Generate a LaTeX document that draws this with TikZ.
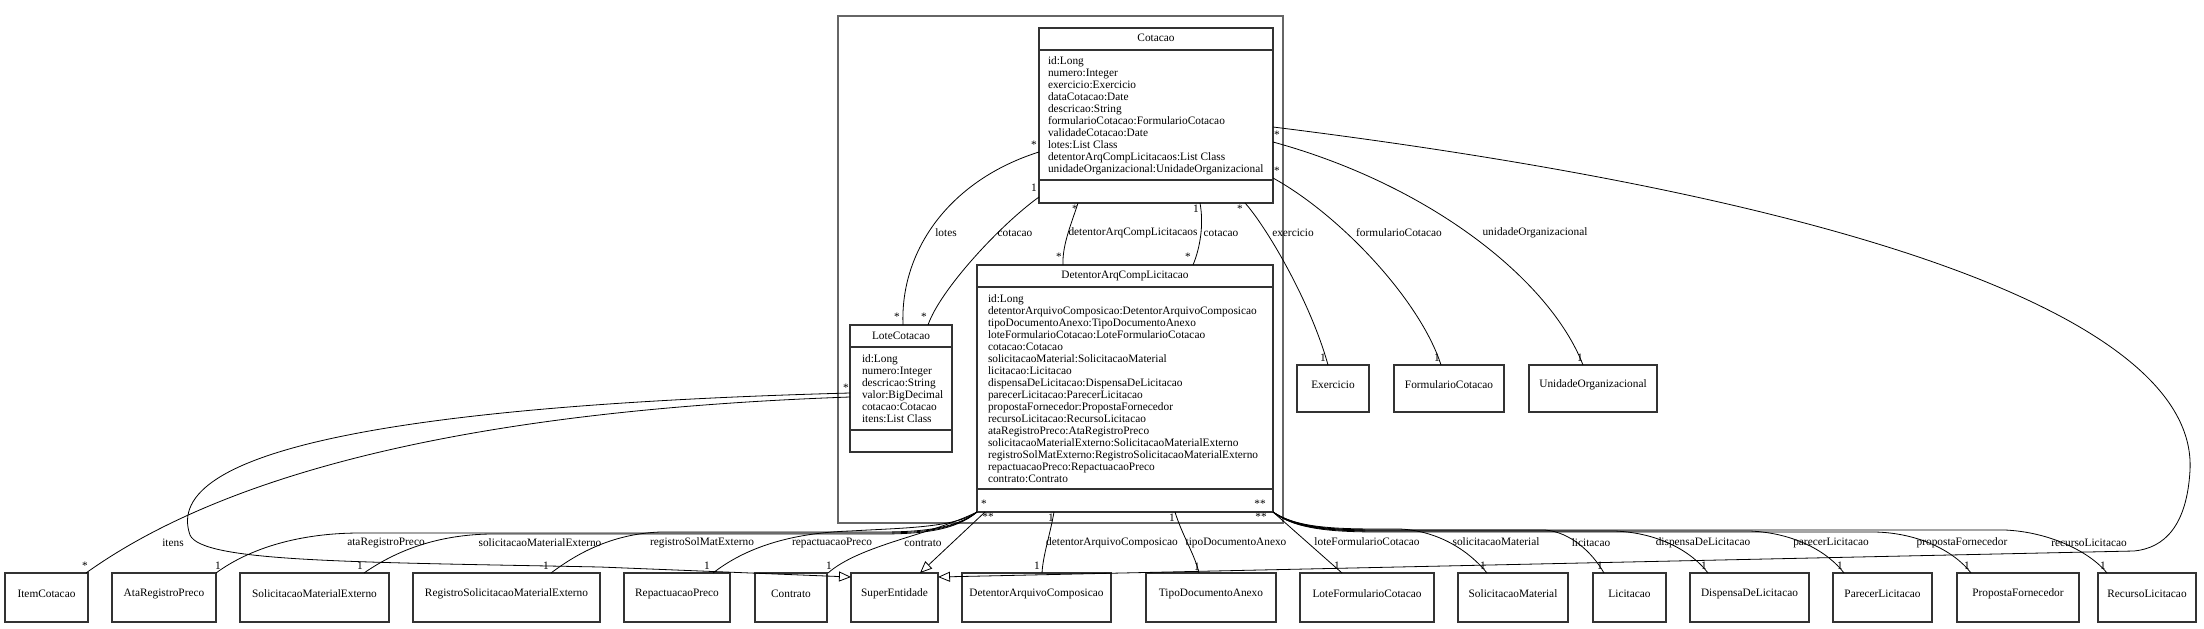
\documentclass[tikz,border=0pt]{standalone}
\usepackage{fontspec}
\setmainfont{Liberation Serif}
\usetikzlibrary{arrows.meta,fit}
\begin{document}
\begin{tikzpicture}[x=0.75pt,y=-0.75pt,
  every node/.style={font=\fontsize{8.5}{9}\selectfont, inner sep=0pt, outer sep=0pt},
  cls/.style={draw=black!80, fill=white, line width=0.9pt, inner sep=0pt},
  pkg/.style={draw=black!60, line width=1.1pt, inner sep=0pt},
  sepline/.style={draw=black!80, line width=0.9pt},
  attr/.style={anchor=north west, align=left},
  assoc/.style={draw=black, line width=0.6pt},
  gen/.style={draw=black, line width=0.6pt, -{Triangle[open,length=9pt,width=7.5pt]}},
]
\fill[white] (0,0) rectangle (2204,628);
\useasboundingbox (0,0) rectangle (2204,628);

% package
\node[pkg, fit={(838,16)(1283,523)}] (pkg) {};

% main classes
\node[cls, fit={(1039,28)(1273,203)}] (cot) {};
\node (cotT) at (1156,38) {Cotacao};
\draw[sepline] (cot.west |- 0,50) -- (cot.east |- 0,50);
\draw[sepline] (cot.west |- 0,180) -- (cot.east |- 0,180);
\node[attr] (cotA) at (1048,57) {id:Long\\numero:Integer\\exercicio:Exercicio\\dataCotacao:Date\\descricao:String\\formularioCotacao:FormularioCotacao\\validadeCotacao:Date\\lotes:List Class\\detentorArqCompLicitacaos:List Class\\unidadeOrganizacional:UnidadeOrganizacional};

\node[cls, fit={(977,265)(1273,512)}] (det) {};
\node (detT) at (1125,276) {DetentorArqCompLicitacao};
\draw[sepline] (det.west |- 0,287) -- (det.east |- 0,287);
\draw[sepline] (det.west |- 0,489) -- (det.east |- 0,489);
\node[attr] (detA) at (988,294.5) {id:Long\\detentorArquivoComposicao:DetentorArquivoComposicao\\tipoDocumentoAnexo:TipoDocumentoAnexo\\loteFormularioCotacao:LoteFormularioCotacao\\cotacao:Cotacao\\solicitacaoMaterial:SolicitacaoMaterial\\licitacao:Licitacao\\dispensaDeLicitacao:DispensaDeLicitacao\\parecerLicitacao:ParecerLicitacao\\propostaFornecedor:PropostaFornecedor\\recursoLicitacao:RecursoLicitacao\\ataRegistroPreco:AtaRegistroPreco\\solicitacaoMaterialExterno:SolicitacaoMaterialExterno\\registroSolMatExterno:RegistroSolicitacaoMaterialExterno\\repactuacaoPreco:RepactuacaoPreco\\contrato:Contrato};

\node[cls, fit={(850,325)(952,452)}] (lote) {};
\node (loteT) at (901,336) {LoteCotacao};
\draw[sepline] (lote.west |- 0,347) -- (lote.east |- 0,347);
\draw[sepline] (lote.west |- 0,430) -- (lote.east |- 0,430);
\node[attr] (loteA) at (862,354.5) {id:Long\\numero:Integer\\descricao:String\\valor:BigDecimal\\cotacao:Cotacao\\itens:List Class};

% right classes
\node[cls, fit={(1297,365)(1369,412)}] (ex) {Exercicio};
\node[cls, fit={(1394,365)(1504,412)}] (fc) {FormularioCotacao};
\node[cls, fit={(1529,365)(1657,412)}] (uo) {UnidadeOrganizacional};

% bottom classes
\node[cls, fit={(5,573)(88,622)}] (it) {ItemCotacao};
\node[cls, fit={(112,573)(216,622)}] (ata) {AtaRegistroPreco};
\node[cls, fit={(240,573)(389,622)}] (sme) {SolicitacaoMaterialExterno};
\node[cls, fit={(413,573)(600,622)}] (rsme) {RegistroSolicitacaoMaterialExterno};
\node[cls, fit={(624,573)(730,622)}] (rep) {RepactuacaoPreco};
\node[cls, fit={(755,573)(827,622)}] (con) {Contrato};
\node[cls, fit={(851,573)(938,622)}] (se) {SuperEntidade};
\node[cls, fit={(962,573)(1111,622)}] (dac) {DetentorArquivoComposicao};
\node[cls, fit={(1146,573)(1276,622)}] (tda) {TipoDocumentoAnexo};
\node[cls, fit={(1300,573)(1434,622)}] (lfc) {LoteFormularioCotacao};
\node[cls, fit={(1458,573)(1568,622)}] (sm) {SolicitacaoMaterial};
\node[cls, fit={(1593,573)(1666,622)}] (lic) {Licitacao};
\node[cls, fit={(1690,573)(1809,622)}] (ddl) {DispensaDeLicitacao};
\node[cls, fit={(1833,573)(1932,622)}] (pl) {ParecerLicitacao};
\node[cls, fit={(1957,573)(2079,622)}] (pf) {PropostaFornecedor};
\node[cls, fit={(2098,573)(2196,622)}] (rl) {RecursoLicitacao};

% ---- Cotacao associations
\draw[assoc] (cot.west |- 0,152) .. controls (950,180) and (900,250) .. (903,0 |- lote.north);
\node (l1) at (946,233) {lotes};
\node (m1a) at (1034,145) {*};
\node (m1b) at (897,317) {*};

\draw[assoc] (cot.west |- 0,197) .. controls (1000,225) and (940,290) .. (928,0 |- lote.north);
\node (l2) at (1015,233) {cotacao};
\node (m2a) at (1034,188) {1};
\node (m2b) at (924,317) {*};

\draw[assoc] (1078,0 |- cot.south) .. controls (1072,222) and (1062,245) .. (1063,0 |- det.north);
\node (l3) at (1133,233) {detentorArqCompLicitacaos};
\node (m3a) at (1075,209) {*};
\node (m3b) at (1059,257) {*};

\draw[assoc] (1200,0 |- cot.south) .. controls (1204,225) and (1200,248) .. (1193,0 |- det.north);
\node (l4) at (1221,233) {cotacao};
\node (m4a) at (1196,209) {1};
\node (m4b) at (1188,257) {*};

\draw[assoc] (1245,0 |- cot.south) .. controls (1265,225) and (1310,300) .. (1328,0 |- ex.north);
\node (l5) at (1293,233) {exercicio};
\node (m5a) at (1240,209) {*};
\node (m5b) at (1323,358) {1};

\draw[assoc] (cot.east |- 0,178) .. controls (1340,215) and (1420,300) .. (1441,0 |- fc.north);
\node (l6) at (1399,233) {formularioCotacao};
\node (m6a) at (1277,171) {*};
\node (m6b) at (1437,358) {1};

\draw[assoc] (cot.east |- 0,142) .. controls (1430,185) and (1550,280) .. (1583,0 |- uo.north);
\node (l7) at (1535,233) {unidadeOrganizacional};
\node (m7a) at (1277,135) {*};
\node (m7b) at (1580,358) {1};

% Cotacao -> SuperEntidade
\draw[gen] (cot.east |- 0,127) .. controls (1900,205) and (2197,330) .. (2190,470) .. controls (2187,525) and (2165,548) .. (2134,551) -- (se.east |- 0,577);

% Detentor -> SuperEntidade
\draw[gen] (985,0 |- det.south) -- (920,0 |- se.north);

% LoteCotacao -> SuperEntidade
\draw[gen] (lote.west |- 0,393) .. controls (400,405) and (160,450) .. (190,535) .. controls (202,562) and (350,562) .. (600,567) -- (se.west |- 0,577);

% LoteCotacao -> ItemCotacao
\draw[assoc] (lote.west |- 0,397) .. controls (480,410) and (230,470) .. (86,0 |- it.north);
\node (l11) at (173,543) {itens};
\node (m11a) at (846,388) {*};
\node (m11b) at (85,566) {*};

% ---- Detentor bottom-left bundle
\draw[assoc] (det.south west) .. controls (955,530) and (920,533) .. (880,533) -- (360,533) .. controls (300,533) and (250,548) .. (216,0 |- ata.north);
\node (l12) at (386,543) {ataRegistroPreco};
\node (m12) at (218,566) {1};

\draw[assoc] (det.south west) .. controls (955,531) and (920,534) .. (880,534) -- (490,534) .. controls (430,535) and (390,555) .. (364,0 |- sme.north);
\node (l13) at (540,543) {solicitacaoMaterialExterno};
\node (m13) at (360,566) {1};

\draw[assoc] (det.south west) .. controls (955,529) and (920,532) .. (880,532) -- (660,532) .. controls (610,534) and (575,555) .. (551,0 |- rsme.north);
\node (l14) at (702,543) {registroSolMatExterno};
\node (m14) at (546,566) {1};

\draw[assoc] (det.south west) .. controls (955,528) and (900,528) .. (850,531) .. controls (790,533) and (745,548) .. (713,0 |- rep.north);
\node (l15) at (832,543) {repactuacaoPreco};
\node (m15) at (707,566) {1};

\draw[assoc] (det.south west) .. controls (930,535) and (860,545) .. (828,0 |- con.north);
\node (l16) at (923,543) {contrato};
\node (m16) at (829,566) {1};

\node (m17a) at (984,504) {*};
\node (m17b) at (988,517) {**};

% ---- Detentor bottom straight
\draw[assoc] (1054,0 |- det.south) .. controls (1050,535) and (1043,555) .. (1042,0 |- dac.north);
\node (l18) at (1112,543) {detentorArquivoComposicao};
\node (m18a) at (1051,518) {1};
\node (m18b) at (1037,566) {1};

\draw[assoc] (1175,0 |- det.south) .. controls (1182,535) and (1195,555) .. (1199,0 |- tda.north);
\node (l19) at (1236,543) {tipoDocumentoAnexo};
\node (m19a) at (1172,518) {1};
\node (m19b) at (1197,567) {1};

% ---- Detentor bottom-right bundle
\draw[assoc] (det.south east) -- (1342,0 |- lfc.north);
\node (l20) at (1367,542) {loteFormularioCotacao};
\node (m20) at (1337,566) {1};

\draw[assoc] (det.south east) .. controls (1295,527) and (1330,529) .. (1380,529) -- (1400,529) .. controls (1440,531) and (1470,552) .. (1487,0 |- sm.north);
\node (l21) at (1496,542) {solicitacaoMaterial};
\node (m21) at (1483,566) {1};

\draw[assoc] (det.south east) .. controls (1295,528) and (1330,530) .. (1380,530) -- (1545,530) .. controls (1570,532) and (1592,552) .. (1604,0 |- lic.north);
\node (l22) at (1591,543) {licitacao};
\node (m22) at (1600,566) {1};

\draw[assoc] (det.south east) .. controls (1295,529) and (1330,531) .. (1380,531) -- (1615,531) .. controls (1660,533) and (1692,552) .. (1708,0 |- ddl.north);
\node (l23) at (1703,543) {dispensaDeLicitacao};
\node (m23) at (1704,566) {1};

\draw[assoc] (det.south east) .. controls (1295,528) and (1330,531) .. (1380,531) -- (1750,531) .. controls (1795,533) and (1828,552) .. (1844,0 |- pl.north);
\node (l24) at (1831,543) {parecerLicitacao};
\node (m24) at (1840,566) {1};

\draw[assoc] (det.south east) .. controls (1295,529) and (1330,532) .. (1380,532) -- (1875,532) .. controls (1920,533) and (1955,552) .. (1971,0 |- pf.north);
\node (l25) at (1962,543) {propostaFornecedor};
\node (m25) at (1967,566) {1};

\draw[assoc] (det.south east) .. controls (1295,527) and (1330,530) .. (1380,530) -- (2005,530) .. controls (2050,532) and (2090,552) .. (2107,0 |- rl.north);
\node (l26) at (2089,543) {recursoLicitacao};
\node (m26) at (2103,566) {1};

\node (m27a) at (1260,504) {**};
\node (m27b) at (1261,517) {**};
\end{tikzpicture}
\end{document}
